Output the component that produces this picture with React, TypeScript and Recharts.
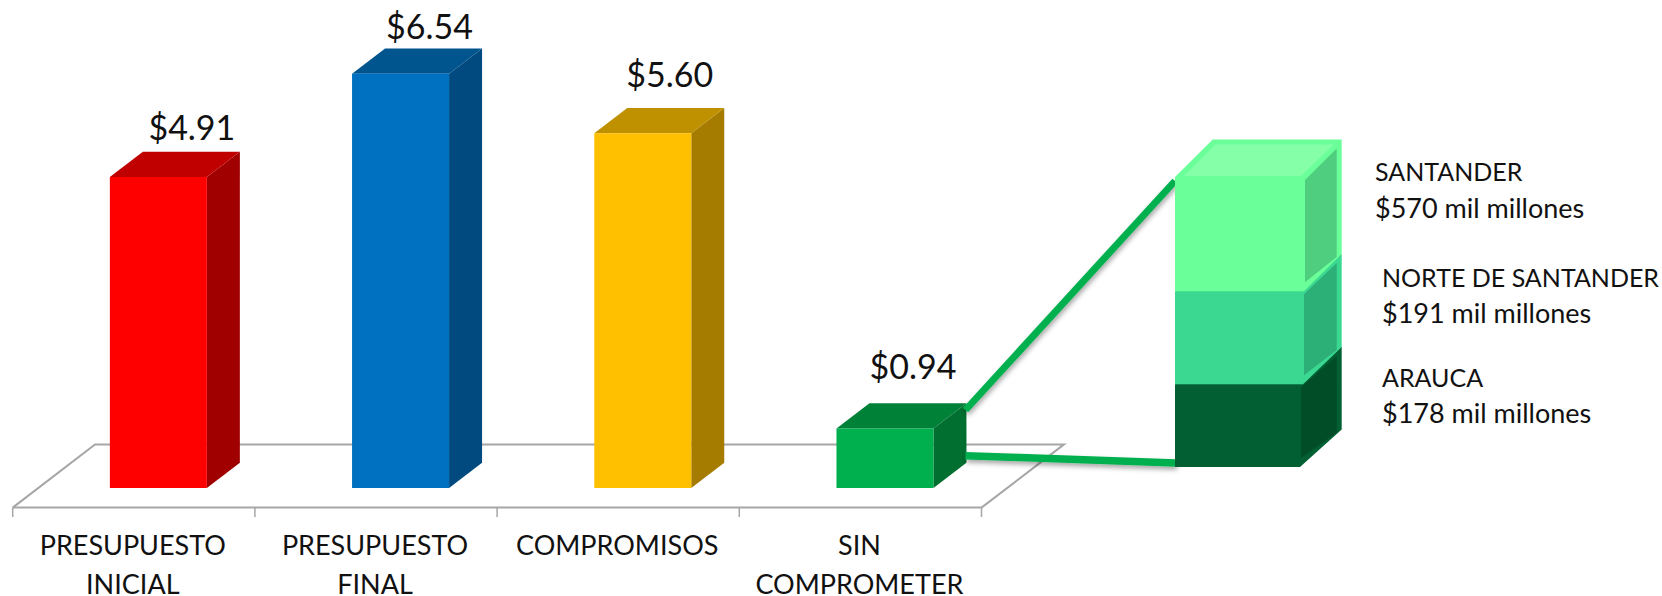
import { Bar, BarChart, LabelList, XAxis, YAxis, usePlotArea } from "recharts";

// Ejecución presupuestal (billones) y desglose de lo no comprometido.
const categorias = ["PRESUPUESTO INICIAL", "PRESUPUESTO FINAL", "COMPROMISOS", "SIN COMPROMETER"];
const valores = [4.91, 6.54, 5.6, 0.94];
const coloresFrente = ["#FF0000", "#0070C0", "#FFC000", "#00B04F"];
const coloresTapa = ["#C00000", "#00558F", "#BF9000", "#008138"];
const coloresLado = ["#A00000", "#004A7F", "#A67C00", "#006F30"];

const regiones = ["ARAUCA", "NORTE DE SANTANDER", "SANTANDER"];
const montos = ["$178 mil millones", "$191 mil millones", "$570 mil millones"];
// Altura dibujada de cada tramo: en la imagen no es proporcional a los montos
const alturasTramo = [82.7, 93, 114.3];
const tramoFrente = ["#025F33", "#3AD891", "#6BFF99"];
const tramoLado = ["#014D28", "#2DAF78", "#50CE7F"];
const tramoTapa = ["#025F33", "#3AD891", "#86FFA9"];

const W = 1662;
const H = 596;
const FONT = "Lato, sans-serif";
const GRIS = "#A6A6A6";
const TEXTO = "#111111";

const datos = categorias.map((categoria, i) => ({
  categoria,
  valor: valores[i],
  frente: coloresFrente[i],
  tapa: coloresTapa[i],
  lado: coloresLado[i],
}));
const datosTramos = [
  Object.fromEntries([["nombre", "desglose"], ...regiones.map((r, i) => [r, alturasTramo[i]])]),
];

// desplazamiento de la barra respecto al eje, por la perspectiva del piso
const SUELO_DX = 24.5;
const SUELO_DY = -19.6;
const FONDO_DX = 33;
const FONDO_DY = 25.3;
const ajusteEtiqueta = [
  [33.5, -23.5],
  [29, -22],
  [27, -33],
  [28, -36.5],
];

const pts = (p: number[][]) => p.map((c) => c.join(",")).join(" ");

function Piso() {
  const plot = usePlotArea();
  if (!plot) return null;
  const y0 = plot.y + plot.height;
  const x0 = plot.x;
  const x1 = plot.x + plot.width;
  return (
    <polyline
      points={pts([
        [x0, y0],
        [x0 + 82.3, y0 - 63.2],
        [x1 + 82.5, y0 - 63.2],
        [x1, y0],
      ])}
      fill="none"
      stroke={GRIS}
      strokeWidth={2}
    />
  );
}

function Barra3D(props: any) {
  const { x, y, width, height, payload } = props;
  const l = x + SUELO_DX;
  const t = y + SUELO_DY;
  const r = l + width;
  const b = t + height;
  return (
    <g>
      <polygon
        points={pts([
          [r, t],
          [r + FONDO_DX, t - FONDO_DY],
          [r + FONDO_DX, b - FONDO_DY],
          [r, b],
        ])}
        fill={payload.lado}
      />
      <polygon
        points={pts([
          [l, t],
          [l + FONDO_DX, t - FONDO_DY],
          [r + FONDO_DX, t - FONDO_DY],
          [r, t],
        ])}
        fill={payload.tapa}
      />
      <rect x={l} y={t} width={width} height={height} fill={payload.frente} />
    </g>
  );
}

function EtiquetaValor(props: any) {
  const { x, y, width, value, index } = props;
  const [dx, dy] = ajusteEtiqueta[index];
  return (
    <text
      x={x + SUELO_DX + width / 2 + dx}
      y={y + SUELO_DY - FONDO_DY + dy}
      dy="0.36em"
      textAnchor="middle"
      fontFamily={FONT}
      fontSize={34}
      fill={TEXTO}
    >
      ${Number(value).toFixed(2)}
    </text>
  );
}

function TickCategoria(props: any) {
  const { x, payload, index } = props;
  const banda = 242.2;
  const lineas = String(payload.value).split(" ");
  return (
    <g>
      <line x1={x - banda / 2} x2={x - banda / 2} y1={507.6} y2={517} stroke={GRIS} strokeWidth={1.5} />
      {index === categorias.length - 1 && (
        <line x1={x + banda / 2} x2={x + banda / 2} y1={507.6} y2={517} stroke={GRIS} strokeWidth={1.5} />
      )}
      {lineas.map((linea, i) => (
        <text
          key={linea}
          x={x - 1}
          y={545.3 + i * 38.7}
          dy="0.36em"
          textAnchor="middle"
          fontFamily={FONT}
          fontSize={27}
          fill={TEXTO}
        >
          {linea}
        </text>
      ))}
    </g>
  );
}

// Líneas que unen la barra verde con la columna de desglose
function Conectores() {
  const plot = usePlotArea();
  if (!plot) return null;
  const x1 = plot.x;
  const x0 = plot.x - 209.5;
  const base = plot.y + plot.height;
  return (
    <g stroke="#00B04F" filter="url(#sombra)">
      <line x1={x0} y1={410} x2={x1} y2={181} strokeWidth={7} />
      <line x1={x0} y1={455.7} x2={x1 + 1} y2={base - 4} strokeWidth={7.5} />
    </g>
  );
}

const PROF_X = 37.7;
const PROF_Y = 37.4;
const recorte = [4, 1, 0];
const inset = 5;
const ajusteTramo = [
  [78, -6.3],
  [78, -13.6],
  [71, -4.7],
];

function Tramo3D(props: any) {
  const { x, y, width, height, idx } = props;
  const l = x;
  const r = x + width - recorte[idx];
  const b = y + height;
  const dx = x + width + PROF_X - r;
  const front = tramoFrente[idx];
  return (
    <g>
      <polygon
        points={pts([
          [l, y],
          [l + PROF_X, y - PROF_Y],
          [r + dx, y - PROF_Y],
          [r + dx, b - PROF_Y],
          [r, b],
        ])}
        fill={front}
      />
      <polygon
        points={pts([
          [r + 1, y + 3],
          [r + dx - inset, y - PROF_Y + 9],
          [r + dx - inset, b - PROF_Y + 3],
          [r + 1, b - 9],
        ])}
        fill={tramoLado[idx]}
      />
      <polygon
        points={pts([
          [l + 9, y - 1],
          [l + PROF_X + 3, y - PROF_Y + 5],
          [r + dx - 8, y - PROF_Y + 5],
          [r - 3, y - 1],
        ])}
        fill={tramoTapa[idx]}
      />
      <rect x={l} y={y} width={r - l} height={height} fill={front} />
    </g>
  );
}

function EtiquetaTramo(props: any) {
  const { x, y, width, idx } = props;
  const [dx, dy] = ajusteTramo[idx];
  const tx = x + width + dx;
  const comun = { x: tx, dy: "0.36em", fontFamily: FONT, fill: TEXTO };
  return (
    <g>
      <text {...comun} y={y + dy} fontSize={25}>
        {regiones[idx]}
      </text>
      <text {...comun} y={y + dy + 35.7} fontSize={27}>
        {montos[idx]}
      </text>
    </g>
  );
}

export default function App() {
  return (
    <div style={{ position: "absolute", left: 0, top: 0, width: W, height: H, background: "#fff" }}>
      <div style={{ position: "absolute", left: 0, top: 0 }}>
        <BarChart
          width={W}
          height={H}
          data={datos}
          barCategoryGap="30%"
          margin={{ top: 0.8, right: 680.5, bottom: 0, left: 12.7 }}
        >
          <XAxis
            dataKey="categoria"
            interval={0}
            height={88.4}
            tick={<TickCategoria />}
            tickLine={false}
            axisLine={{ stroke: GRIS, strokeWidth: 2 }}
          />
          <YAxis hide domain={[0, 8]} />
          <Piso />
          <Bar dataKey="valor" shape={<Barra3D />} isAnimationActive={false}>
            <LabelList dataKey="valor" content={<EtiquetaValor />} />
          </Bar>
        </BarChart>
      </div>
      <div style={{ position: "absolute", left: 0, top: 0 }}>
        <BarChart
          width={W}
          height={H}
          data={datosTramos}
          barCategoryGap={0}
          style={{ pointerEvents: "none" }}
          margin={{ top: 0, right: 358, bottom: 129, left: 1175 }}
        >
          <defs>
            <filter id="sombra" x="-20%" y="-20%" width="140%" height="160%">
              <feDropShadow dx="1" dy="3" stdDeviation="2.5" floodColor="#000" floodOpacity="0.35" />
            </filter>
          </defs>
          <XAxis dataKey="nombre" hide />
          <YAxis hide domain={[0, 467]} />
          <Conectores />
          {regiones.map((r, i) => (
            <Bar
              key={r}
              dataKey={r}
              stackId="desglose"
              shape={<Tramo3D idx={i} />}
              isAnimationActive={false}
            >
              <LabelList dataKey={r} content={<EtiquetaTramo idx={i} />} />
            </Bar>
          ))}
        </BarChart>
      </div>
    </div>
  );
}
